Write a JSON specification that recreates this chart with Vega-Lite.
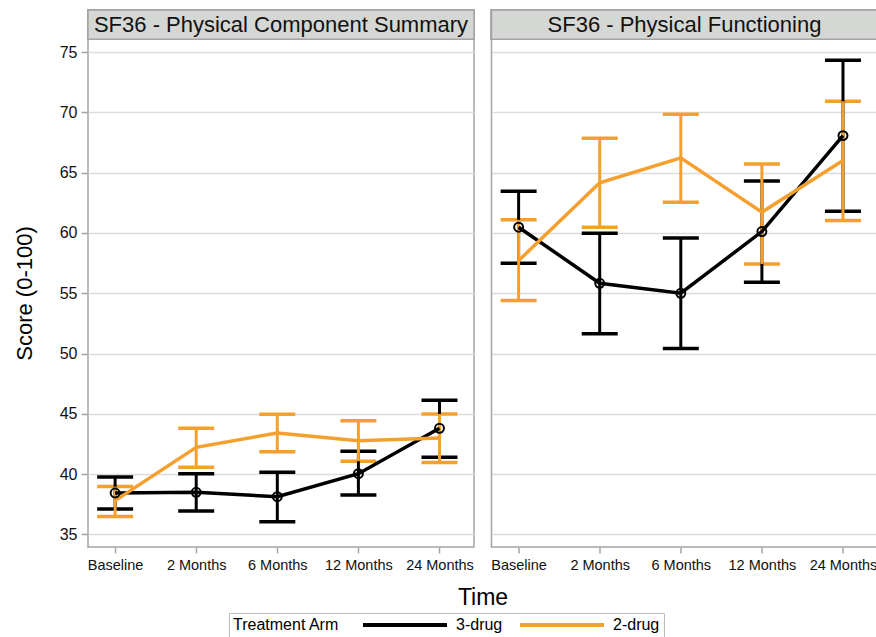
{
  "$schema": "https://vega.github.io/schema/vega-lite/v6.json",
  "padding": {"left": 13, "top": 8, "right": 0, "bottom": 2},
  "background": "white",
  "config": {
    "font": "Liberation Sans",
    "view": {"stroke": "#a4a4a4", "strokeWidth": 1.5},
    "legend": {"layout": {"bottom": {"anchor": "middle"}}}
  },
  "data": {"values": [
    {"panel": "SF36 - Physical Component Summary", "time": "Baseline", "arm": "3-drug", "mean": 38.43, "lo": 37.1, "hi": 39.76},
    {"panel": "SF36 - Physical Component Summary", "time": "2 Months", "arm": "3-drug", "mean": 38.49, "lo": 36.94, "hi": 40.03},
    {"panel": "SF36 - Physical Component Summary", "time": "6 Months", "arm": "3-drug", "mean": 38.12, "lo": 36.05, "hi": 40.15},
    {"panel": "SF36 - Physical Component Summary", "time": "12 Months", "arm": "3-drug", "mean": 40.03, "lo": 38.26, "hi": 41.9},
    {"panel": "SF36 - Physical Component Summary", "time": "24 Months", "arm": "3-drug", "mean": 43.8, "lo": 41.4, "hi": 46.12},
    {"panel": "SF36 - Physical Component Summary", "time": "Baseline", "arm": "2-drug", "mean": 37.8, "lo": 36.47, "hi": 38.96},
    {"panel": "SF36 - Physical Component Summary", "time": "2 Months", "arm": "2-drug", "mean": 42.22, "lo": 40.56, "hi": 43.8},
    {"panel": "SF36 - Physical Component Summary", "time": "6 Months", "arm": "2-drug", "mean": 43.41, "lo": 41.86, "hi": 44.96},
    {"panel": "SF36 - Physical Component Summary", "time": "12 Months", "arm": "2-drug", "mean": 42.77, "lo": 41.06, "hi": 44.43},
    {"panel": "SF36 - Physical Component Summary", "time": "24 Months", "arm": "2-drug", "mean": 43.0, "lo": 40.95, "hi": 44.99},
    {"panel": "SF36 - Physical Functioning", "time": "Baseline", "arm": "3-drug", "mean": 60.48, "lo": 57.49, "hi": 63.46},
    {"panel": "SF36 - Physical Functioning", "time": "2 Months", "arm": "3-drug", "mean": 55.83, "lo": 51.65, "hi": 59.98},
    {"panel": "SF36 - Physical Functioning", "time": "6 Months", "arm": "3-drug", "mean": 55.0, "lo": 50.41, "hi": 59.59},
    {"panel": "SF36 - Physical Functioning", "time": "12 Months", "arm": "3-drug", "mean": 60.12, "lo": 55.91, "hi": 64.32},
    {"panel": "SF36 - Physical Functioning", "time": "24 Months", "arm": "3-drug", "mean": 68.08, "lo": 61.8, "hi": 74.34},
    {"panel": "SF36 - Physical Functioning", "time": "Baseline", "arm": "2-drug", "mean": 57.71, "lo": 54.39, "hi": 61.09},
    {"panel": "SF36 - Physical Functioning", "time": "2 Months", "arm": "2-drug", "mean": 64.16, "lo": 60.48, "hi": 67.86},
    {"panel": "SF36 - Physical Functioning", "time": "6 Months", "arm": "2-drug", "mean": 66.23, "lo": 62.55, "hi": 69.85},
    {"panel": "SF36 - Physical Functioning", "time": "12 Months", "arm": "2-drug", "mean": 61.72, "lo": 57.43, "hi": 65.73},
    {"panel": "SF36 - Physical Functioning", "time": "24 Months", "arm": "2-drug", "mean": 66.01, "lo": 61.03, "hi": 70.93}
  ]},
  "facet": {
    "column": {
      "field": "panel",
      "sort": ["SF36 - Physical Component Summary", "SF36 - Physical Functioning"],
      "header": {
        "labels": false,
        "title": "Time",
        "titleOrient": "bottom",
        "titleFontSize": 23,
        "titleFontWeight": "normal",
        "titleColor": "#000",
        "titlePadding": 5
      }
    }
  },
  "spacing": 17.5,
  "bounds": "flush",
  "spec": {
    "width": 386,
    "height": 537,
    "encoding": {
      "x": {
        "field": "time",
        "type": "ordinal",
        "sort": ["Baseline", "2 Months", "6 Months", "12 Months", "24 Months"],
        "scale": {"type": "point", "padding": 0.38, "align": 0.44},
        "axis": {
          "title": null,
          "labelAngle": 0,
          "labelFontSize": 14.5,
          "labelColor": "#111",
          "labelPadding": 5,
          "tickSize": 6,
          "tickColor": "#a4a4a4",
          "tickWidth": 1.5,
          "domain": false,
          "grid": false
        }
      }
    },
    "layer": [
      {
        "mark": {"type": "rect", "fill": "#d4d7d3", "stroke": "#a4a4a4", "strokeWidth": 1.5},
        "encoding": {
          "x": null,
          "y": {
            "datum": 76.08,
            "type": "quantitative",
            "scale": {"domain": [33.95, 78.5], "nice": false, "zero": false},
            "axis": {
              "title": "Score (0-100)",
              "values": [35, 37.5, 40, 42.5, 45, 47.5, 50, 52.5, 55, 57.5, 60, 62.5, 65, 67.5, 70, 72.5, 75],
              "labelExpr": "datum.value % 5 === 0 ? datum.label : ''",
              "grid": true,
              "gridColor": "#dcdcdc",
              "gridWidth": 1.5,
              "gridOpacity": {"condition": {"test": "datum.value % 5 !== 0", "value": 0}, "value": 1},
              "domain": false,
              "tickSize": {"condition": {"test": "datum.value % 5 !== 0", "value": 4}, "value": 7},
              "tickColor": "#a4a4a4",
              "tickWidth": 1.5,
              "labelFontSize": 16,
              "labelColor": "#111",
              "labelPadding": 4,
              "titleFontSize": 22,
              "titleFontWeight": "normal",
              "titleColor": "#000",
              "titlePadding": 23,
              "titleY": 283
            }
          },
          "y2": {"datum": 78.5}
        }
      },
      {
        "transform": [{"aggregate": [{"op": "count", "as": "n"}], "groupby": ["panel"]}],
        "mark": {"type": "text", "fontSize": 22, "color": "#111", "baseline": "middle"},
        "encoding": {
          "x": null,
          "y": {"datum": 77.25, "type": "quantitative"},
          "text": {"field": "panel"}
        }
      },
      {
        "mark": {"type": "errorbar", "ticks": {"size": 36, "thickness": 3.5, "opacity": 1}, "rule": {"strokeWidth": 3}},
        "encoding": {
          "y": {"field": "lo", "type": "quantitative", "title": "Score (0-100)"},
          "y2": {"field": "hi"},
          "color": {
            "field": "arm",
            "type": "nominal",
            "scale": {"domain": ["3-drug", "2-drug"], "range": ["#000000", "#f5a02e"]},
            "legend": {
              "title": "Treatment Arm",
              "orient": "bottom",
              "direction": "horizontal",
              "titleOrient": "left",
              "titleFontSize": 16,
              "titleFontWeight": "normal",
              "titleColor": "#000",
              "titlePadding": 57,
              "labelFontSize": 16,
              "labelColor": "#000",
              "labelOffset": 43,
              "columnPadding": 9,
              "symbolType": "M-7,0H7",
              "symbolSize": 144,
              "symbolStrokeWidth": 4,
              "strokeColor": "#bcbcbc",
              "padding": 4,
              "offset": 3
            }
          }
        }
      },
      {
        "mark": {"type": "line", "strokeWidth": 3.5},
        "encoding": {
          "y": {"field": "mean", "type": "quantitative"},
          "color": {"field": "arm", "type": "nominal"}
        }
      },
      {
        "transform": [{"filter": "datum.arm === '3-drug'"}],
        "mark": {"type": "point", "shape": "circle", "filled": false, "size": 80, "strokeWidth": 2, "opacity": 1},
        "encoding": {
          "y": {"field": "mean", "type": "quantitative"},
          "color": {"field": "arm", "type": "nominal"}
        }
      }
    ]
  }
}
